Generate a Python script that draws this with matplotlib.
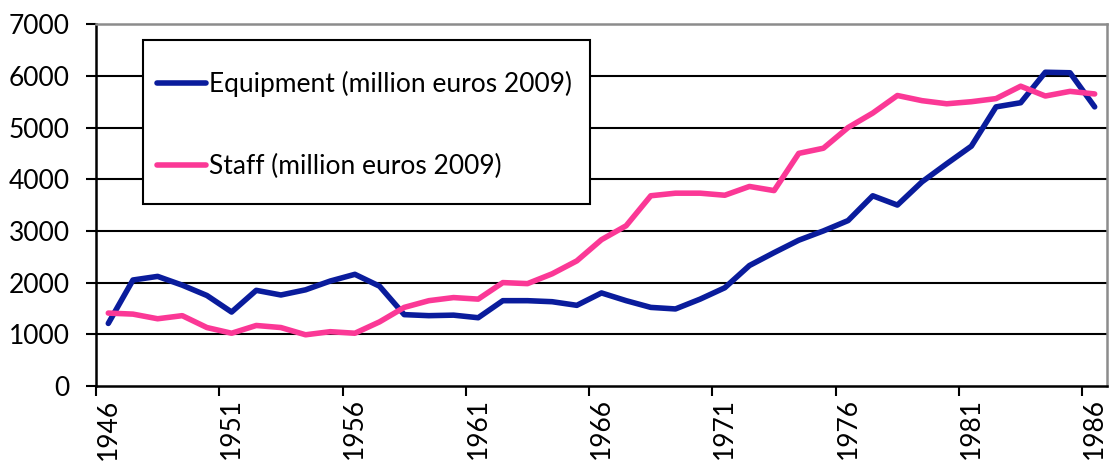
import matplotlib.pyplot as plt
from matplotlib.patches import Rectangle
import numpy as np

# yearly values
years = list(range(1946, 1987))
equipment = [1210, 2050, 2120, 1950, 1750, 1430, 1850, 1760, 1860, 2030, 2160,
             1930, 1380, 1360, 1370, 1320, 1650, 1650, 1630, 1560, 1800, 1650,
             1520, 1490, 1680, 1900, 2330, 2580, 2820, 3000, 3200, 3680, 3500,
             3950, 4300, 4640, 5400, 5480, 6070, 6060, 5400]
staff = [1410, 1390, 1300, 1360, 1130, 1020, 1170, 1130, 990, 1050, 1020,
         1240, 1520, 1650, 1710, 1680, 2000, 1980, 2170, 2420, 2830, 3100,
         3680, 3730, 3730, 3690, 3860, 3780, 4500, 4600, 5000, 5280, 5620,
         5520, 5460, 5500, 5560, 5800, 5610, 5700, 5650]
label_years = list(range(1946, 1987, 5))
yticks = list(range(0, 8000, 1000))

plt.rcParams['font.family'] = ['Lato', 'DejaVu Sans']

W, H = 1112, 465
fig = plt.figure(figsize=(W / 100, H / 100), dpi=100)
ax = fig.add_axes([0.0863, 0.170, 0.9092, 0.778])

ax.plot(years, equipment, color='#0a1c9c', lw=4, solid_capstyle='round',
        label='Equipment (million euros 2009)', zorder=3)
ax.plot(years, staff, color='#fb3896', lw=4, solid_capstyle='round',
        label='Staff (million euros 2009)', zorder=3)

ax.set_xlim(years[0] - 0.5, years[-1] + 0.5)
ax.set_ylim(0, 7000)

# labels in the middle of categories, tick marks between them
ax.set_xticks(label_years)
ax.set_xticklabels([str(y) for y in label_years], rotation=90, fontsize=19)
ax.set_xticks([y - 0.5 for y in label_years], minor=True)
ax.tick_params(axis='x', which='major', length=0, pad=9)
ax.tick_params(axis='x', which='minor', length=7, width=1.5, direction='out',
               color='black')

ax.set_yticks(yticks)
ax.set_yticklabels([str(v) for v in yticks], fontsize=19)
ax.tick_params(axis='y', length=7, width=1.5, direction='out', pad=12,
               color='black')

ax.yaxis.grid(True, color='black', lw=1.5)
gl = ax.get_ygridlines()
gl[0].set_visible(False)
gl[-1].set_visible(False)
ax.set_axisbelow(True)

for side in ['left', 'bottom']:
    ax.spines[side].set_color('black')
    ax.spines[side].set_linewidth(1.8)
for side in ['top', 'right']:
    ax.spines[side].set_color('#8c8c8c')
    ax.spines[side].set_linewidth(1.8)

# legend box drawn separately so the padding can differ per side
box = Rectangle((143 / W, 1 - 204 / H), 447 / W, 164 / H,
                transform=fig.transFigure, facecolor='white',
                edgecolor='black', lw=1.5, zorder=2, clip_on=False)
ax.add_patch(box)

leg = ax.legend(loc='upper left', bbox_to_anchor=(157 / W, 1 - 71 / H),
                bbox_transform=fig.transFigure, fontsize=19, frameon=False,
                handlelength=1.86, handletextpad=0.11,
                labelspacing=2.16, borderpad=0, borderaxespad=0)
leg.set_zorder(5)
for line in leg.get_lines():
    line.set_linewidth(4)

fig.savefig('out.png', dpi=100)
